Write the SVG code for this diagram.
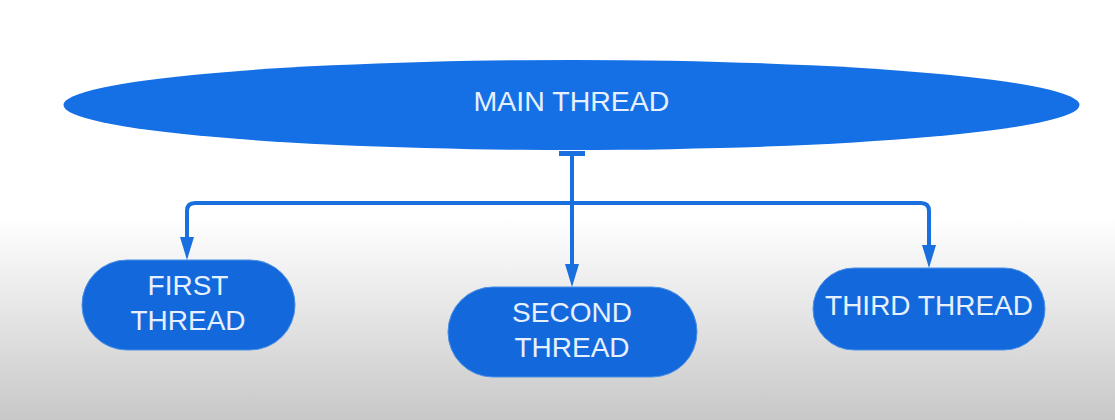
<svg xmlns="http://www.w3.org/2000/svg" width="1115" height="420" viewBox="0 0 1115 420">
<defs>
<linearGradient id="bg" x1="0" y1="0" x2="0" y2="1">
<stop offset="0" stop-color="#ffffff"/>
<stop offset="0.52" stop-color="#ffffff"/>
<stop offset="0.66" stop-color="#efefef"/>
<stop offset="1" stop-color="#c8c8c8"/>
</linearGradient>
<style>
.node{fill:#1369dc;stroke:#4a8fe6;stroke-width:1}
.lbl{font-family:"Liberation Sans",Arial,sans-serif;font-size:28px;fill:#e6f0ff;text-anchor:middle}
.conn{fill:none;stroke:#1a6fdf;stroke-width:4;stroke-linejoin:round}
.head{fill:#1a6fdf}
</style>
</defs>
<rect width="1115" height="420" fill="url(#bg)"/>
<g id="connectors">
<rect x="559" y="151" width="26" height="5" fill="#1a6fdf"/>
<path class="conn" d="M572,152 V266"/>
<path class="conn" d="M572,203 H195 Q187,203 187,211 V240"/>
<path class="conn" d="M572,203 H921 Q929,203 929,211 V248"/>
<path class="head" d="M180,237 L194,237 L187,260 Z"/>
<path class="head" d="M565,264 L579,264 L572,287 Z"/>
<path class="head" d="M922,245 L936,245 L929,268 Z"/>
</g>
<g id="main-thread">
<ellipse cx="571.5" cy="105" rx="508" ry="45" fill="#1570e6"/>
<text class="lbl" x="571.5" y="111" style="font-size:28.5px">MAIN THREAD</text>
</g>
<g id="first-thread">
<rect class="node" x="82" y="260" width="213" height="90" rx="45"/>
<text class="lbl" x="188" y="295">FIRST</text>
<text class="lbl" x="188" y="330">THREAD</text>
</g>
<g id="second-thread">
<rect class="node" x="448" y="287" width="249" height="90" rx="45"/>
<text class="lbl" x="572" y="322">SECOND</text>
<text class="lbl" x="572" y="357">THREAD</text>
</g>
<g id="third-thread">
<rect class="node" x="813" y="268" width="232" height="82" rx="41"/>
<text class="lbl" x="929" y="315">THIRD THREAD</text>
</g>
</svg>
